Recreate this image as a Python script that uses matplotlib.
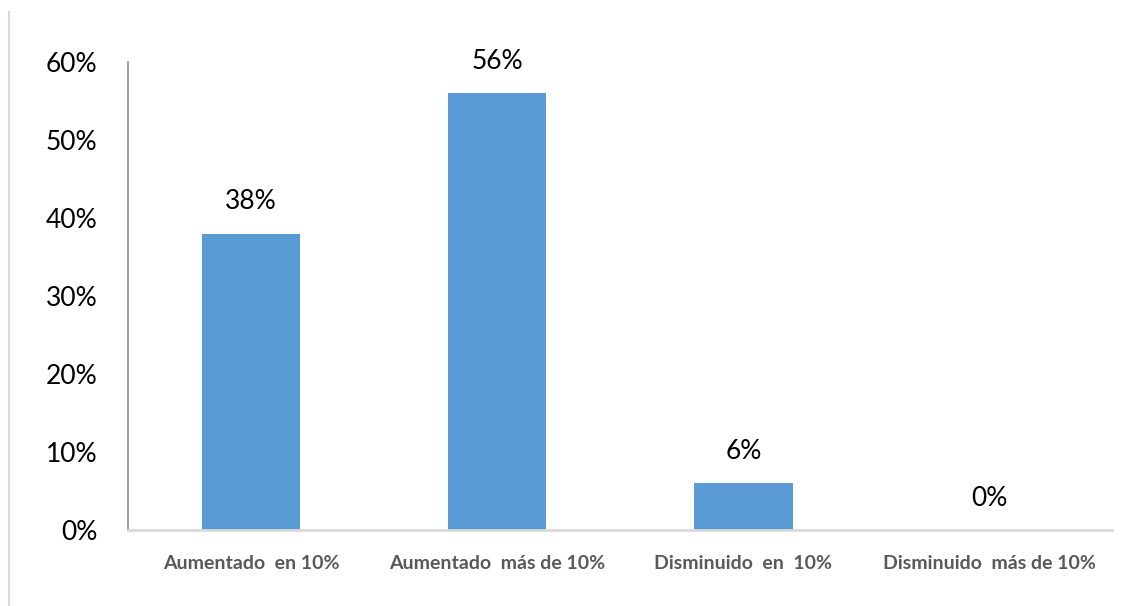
import matplotlib.pyplot as plt
import numpy as np
from matplotlib.lines import Line2D
from matplotlib.ticker import FuncFormatter

categories = ["Aumentado  en 10%", "Aumentado  más de 10%", "Disminuido  en  10%", "Disminuido  más de 10%"]
shares = [38, 56, 6, 0]
y_ticks = [0, 10, 20, 30, 40, 50, 60]

BAR_COLOR = "#5B9BD5"
FONT = ["Lato", "DejaVu Sans"]

fig = plt.figure(figsize=(11.34, 6.06), dpi=100)
ax = fig.add_axes([0.113, 0.125, 0.868, 0.773])

x = np.arange(len(categories))
ax.bar(x, shares, width=0.4, color=BAR_COLOR)

for xi, v in zip(x, shares):
    ax.annotate(f"{v}%", (xi, v), xytext=(0, 14), textcoords="offset points",
                ha="center", va="bottom", fontsize=19, family=FONT, color="#000000")

ax.set_xlim(-0.5, len(categories) - 0.5)
ax.set_ylim(0, 60)
ax.set_yticks(y_ticks)
ax.yaxis.set_major_formatter(FuncFormatter(lambda v, _: f"{v:.0f}%"))
ax.set_xticks(x)
ax.set_xticklabels(categories)

ax.tick_params(axis="y", length=0, pad=22, labelsize=19, labelcolor="#000000")
ax.tick_params(axis="x", length=0, pad=18, labelsize=14, labelcolor="#595959")
for lab in ax.get_yticklabels():
    lab.set_family(FONT)
for lab in ax.get_xticklabels():
    lab.set_family(FONT)
    lab.set_fontweight("bold")

for side in ("top", "right"):
    ax.spines[side].set_visible(False)
ax.spines["left"].set_color("#8c8c8c")
ax.spines["left"].set_linewidth(1.2)
ax.spines["bottom"].set_color("#d9d9d9")
ax.spines["bottom"].set_linewidth(2)

# thin frame edge on the left of the figure
fig.add_artist(Line2D([0.008, 0.008], [0.0, 0.98], transform=fig.transFigure,
                      color="#d9d9d9", linewidth=1.5))

fig.savefig("out.png", dpi=100)
